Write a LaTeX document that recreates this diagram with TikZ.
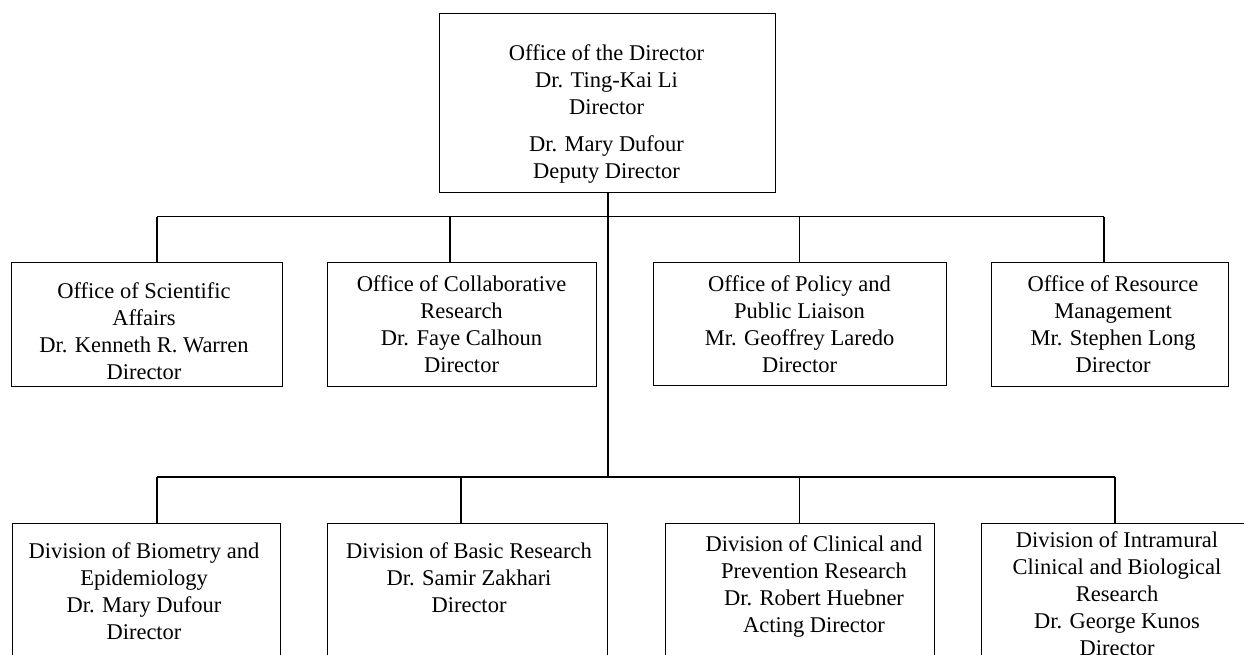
\documentclass[tikz,border=0pt]{standalone}
\usepackage{fontspec}
\setmainfont{Liberation Serif}
\usetikzlibrary{positioning}

\tikzset{
  orgbox/.style={draw, line width=1.4pt, inner sep=0pt, anchor=north west},
  orgtext/.style={align=center, anchor=north, inner sep=0pt, font=\fontsize{22.5}{27}\selectfont},
  link/.style={line width=1.2pt}
}

\begin{document}
\begin{tikzpicture}[x=1pt,y=-1pt]
      \clip (0,0) rectangle (1244,654);
      % boxes
      \node[orgbox, minimum width=336.5, minimum height=179] (dir) at (438.5,13) {};
      \node[orgbox, minimum width=270.5, minimum height=124] (osa) at (11,261.5) {};
      \node[orgbox, minimum width=269.5, minimum height=124] (ocr) at (326.5,261.5) {};
      \node[orgbox, minimum width=293.5, minimum height=123] (opp) at (652.5,261.5) {};
      \node[orgbox, minimum width=236.5, minimum height=124] (orm) at (991,261.5) {};
      \node[orgbox, minimum width=268.5, minimum height=160] (dbe) at (11.5,522.5) {};
      \node[orgbox, minimum width=280, minimum height=160] (dbr) at (327,522.5) {};
      \node[orgbox, minimum width=268.5, minimum height=160] (dcp) at (665,522.5) {};
      \node[orgbox, minimum width=275, minimum height=160] (dic) at (980.5,522.5) {};
      % texts
      \node[orgtext] (dir-t) at (606.5,44) {Office of the Director\\Dr. Ting-Kai Li\\Director\\[10pt]Dr. Mary Dufour\\Deputy Director};
      \node[orgtext] (osa-t) at (144,282) {Office of Scientific\\Affairs\\Dr. Kenneth R. Warren\\Director};
      \node[orgtext] (ocr-t) at (461.5,275) {Office of Collaborative\\Research\\Dr. Faye Calhoun\\Director};
      \node[orgtext] (opp-t) at (799.5,275) {Office of Policy and\\Public Liaison\\Mr. Geoffrey Laredo\\Director};
      \node[orgtext] (orm-t) at (1113,275) {Office of Resource\\Management\\Mr. Stephen Long\\Director};
      \node[orgtext] (dbe-t) at (144,542) {Division of Biometry and\\Epidemiology\\Dr. Mary Dufour\\Director};
      \node[orgtext] (dbr-t) at (469,542) {Division of Basic Research\\Dr. Samir Zakhari\\Director};
      \node[orgtext] (dcp-t) at (814,535) {Division of Clinical and\\Prevention Research\\Dr. Robert Huebner\\Acting Director};
      \node[orgtext] (dic-t) at (1117,531) {Division of Intramural\\Clinical and Biological\\Research\\Dr. George Kunos\\Director};
      % connectors
      \coordinate (ua) at (157,216.7);
      \coordinate (ub) at (450,216.7);
      \coordinate (uc) at (799.5,216.7);
      \coordinate (ud) at (1104,216.7);
      \coordinate (la) at (157,477);
      \coordinate (lb) at (461,477);
      \coordinate (lc) at (799.5,477);
      \coordinate (ld) at (1115,477);
      \coordinate (lt) at (608,477);
      \draw[link] (dir.south -| lt) -- (lt);
      \draw[link] (ua) -- (ud) (la) -- (ld);
      \foreach \j/\n in {ua/osa,ub/ocr,uc/opp,ud/orm,la/dbe,lb/dbr,lc/dcp,ld/dic}
        \draw[link] (\j) -- (\j |- \n.north);
\end{tikzpicture}
\end{document}
